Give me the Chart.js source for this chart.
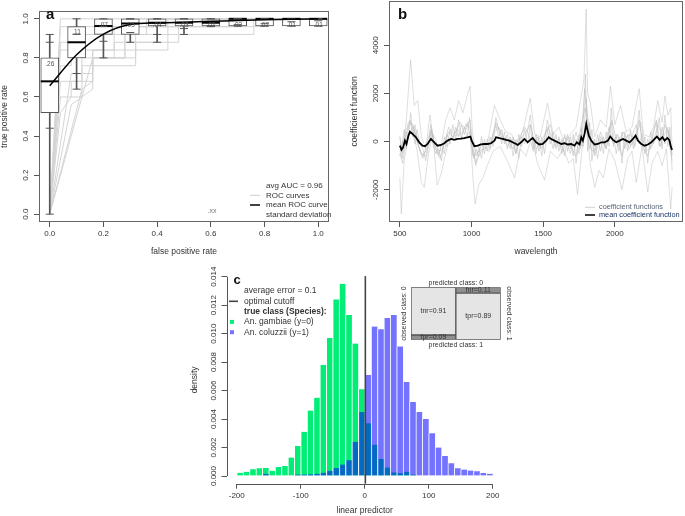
<!DOCTYPE html>
<html>
<head>
<meta charset="utf-8">
<script src="https://cdn.jsdelivr.net/npm/chart.js@4.4.1/dist/chart.umd.min.js"></script>
<style>
  html, body { margin: 0; padding: 0; background: #fff; }
  #page { position: relative; width: 685px; height: 516px; overflow: hidden; }
  canvas { position: absolute; }
</style>
</head>
<body>
<div id="page">
  <canvas id="rocChart" width="340" height="262" style="left:0;top:0"></canvas>
  <canvas id="coefChart" width="345" height="262" style="left:340px;top:0"></canvas>
  <canvas id="histChart" width="325" height="254" style="left:190px;top:262px"></canvas>
  <canvas id="mosaicChart" width="117" height="74" style="left:398px;top:277px"></canvas>
</div>
<script>
// ---- panel a: ROC curves with boxplots per false positive rate ----
const fprGrid = [0, 0.1, 0.2, 0.3, 0.4, 0.5, 0.6, 0.7, 0.8, 0.9, 1.0];
const boxQ1 = [0.52, 0.80, 0.92, 0.92, 0.963, 0.963, 0.963, 0.963, 0.963, 0.963, 0.963];
const boxQ3 = [0.80, 0.96, 1, 1, 1, 1, 1, 1, 1, 1, 1];
const boxMedian = [0.68, 0.88, 0.963, 0.976, 0.98, 0.98, 0.98, 1, 1, 1, 1];
const whiskerLow = [0, 0.64, 0.80, 0.88, 0.88, 0.92, 0.96, 0.963, 0.963, 0.963, 0.963];
const whiskerHigh = [0.92, 1, 1, 1, 1, 1, 1, 1, 1, 1, 1];
const sdLow = [0.44, 0.72, 0.885, 0.93, 0.92, 0.95, 0.965, 0.97, 0.975, 0.985, 0.99];
const sdHigh = [0.88, 0.92, 0.96, 1, 1, 1, 1, 1, 1, 1, 1];
const meanTpr = [0.657, 0.816, 0.922, 0.971, 0.979, 0.983, 0.987, 0.991, 0.995, 0.998, 1.0];
const sdLabels = ['.26', '.11', '.07', '.05', '.04', '.03', '.02', '.02', '.02', '.01', '.01'];
const rocTicks = [0, 0.2, 0.4, 0.6, 0.8, 1.0];

// individual cross-validation ROC curves, [fpr, tpr]
const rocCurves = [
  [[0, 0], [0.04, 0.96], [0.8, 0.96], [0.8, 1], [1, 1]],
  [[0, 0], [0.04, 0.88], [0.12, 0.88], [0.12, 0.92], [0.76, 0.92], [0.76, 1], [1, 1]],
  [[0, 0], [0.04, 0.84], [0.08, 0.84], [0.08, 0.92], [0.2, 0.92], [0.2, 0.96], [0.52, 0.96], [0.52, 1], [1, 1]],
  [[0, 0], [0.04, 0.76], [0.08, 0.76], [0.08, 0.84], [0.2, 0.84], [0.2, 0.96], [0.44, 0.96], [0.44, 1], [1, 1]],
  [[0, 0], [0.04, 0.68], [0.12, 0.68], [0.12, 0.8], [0.32, 0.8], [0.32, 0.96], [0.6, 0.96], [0.6, 1], [1, 1]],
  [[0, 0], [0.04, 0.6], [0.12, 0.6], [0.12, 0.76], [0.32, 0.76], [0.32, 0.88], [0.48, 0.88], [0.48, 0.96], [0.72, 0.96], [0.72, 1], [1, 1]],
  [[0, 0], [0.08, 0.56], [0.16, 0.64], [0.16, 0.8], [0.24, 0.8], [0.24, 0.88], [0.4, 0.88], [0.4, 1], [1, 1]],
  [[0, 0], [0.08, 0.72], [0.16, 0.72], [0.16, 0.84], [0.44, 0.84], [0.44, 0.96], [0.68, 0.96], [0.68, 1], [1, 1]],
  [[0, 0], [0.12, 0.64], [0.16, 0.68], [0.16, 0.8], [0.28, 0.8], [0.28, 0.92], [0.36, 0.92], [0.36, 1], [1, 1]],
  [[0, 0], [0.16, 0.8], [0.28, 0.8], [0.28, 0.96], [0.4, 0.96], [0.4, 1], [1, 1]],
  [[0, 0], [0.04, 0.52], [0.08, 0.6], [0.08, 0.68], [0.16, 0.68], [0.16, 0.84], [0.24, 0.84], [0.24, 0.96], [0.32, 0.96], [0.32, 1], [1, 1]],
  [[0, 0], [0.04, 1], [1, 1]]
];

// ---- panel b: coefficient functions over wavelength, [wavelength, value] ----
const meanCoefCurve = [
  [500, -170], [511, -340], [523, -230], [535, 40], [546, -100], [558, 210], [570, 410], [588, 320], [612, 180],
  [635, -30], [658, -170], [675, -190], [693, -100], [717, 110], [740, -30], [763, -170], [787, -140], [810, -70],
  [833, 40], [857, 110], [880, 70], [903, 110], [927, 120], [950, 140], [973, 180], [992, 210], [1001, 40],
  [1020, -190], [1043, -170], [1066, -120], [1090, -100], [1113, -100], [1136, -70], [1160, 40], [1171, 180],
  [1194, 140], [1218, 110], [1241, 70], [1264, 40], [1287, -30], [1311, -100], [1323, -140], [1346, -30],
  [1369, 110], [1392, -30], [1404, 40], [1427, 150], [1451, -30], [1474, -120], [1497, -100], [1521, 40],
  [1539, 180], [1556, 110], [1579, 40], [1602, -30], [1626, -100], [1649, -70], [1672, -120], [1696, -100],
  [1719, -170], [1735, -30], [1754, -120], [1766, 180], [1777, 40], [1789, 320], [1801, 730], [1808, 520],
  [1819, 250], [1836, 40], [1859, -120], [1882, -100], [1906, -30], [1929, -30], [1952, 40], [1968, 210],
  [1987, 70], [2010, -30], [2034, 40], [2057, 110], [2080, 40], [2103, -30], [2127, 110], [2145, 250],
  [2162, 40], [2185, -100], [2208, -170], [2231, -120], [2255, -30], [2278, 110], [2294, 210], [2313, 70],
  [2332, 180], [2348, 40], [2366, 150], [2380, 70], [2392, -230], [2400, -340]
];
const coefCurveA = [
  [500, 200], [520, -500], [545, 900], [575, 3400], [600, 1500], [625, 1700], [650, 200], [680, -300], [710, 1100],
  [740, -200], [780, -400], [820, 900], [850, 1400], [880, 900], [910, 1700], [940, 1200], [970, 1900], [990, 2300],
  [1005, 500], [1030, -600], [1070, -200], [1110, -100], [1160, 1500], [1200, 900], [1240, 400], [1280, 300],
  [1320, -200], [1360, 500], [1410, 1800], [1440, 300], [1480, 200], [1530, 1600], [1570, 300], [1610, 600],
  [1650, -100], [1690, 300], [1730, 600], [1760, 1700], [1785, 2600], [1800, 5500], [1810, 2000], [1830, 1600],
  [1860, 200], [1900, 900], [1940, 600], [1970, 2300], [2000, 700], [2040, 1500], [2080, 400], [2120, 600],
  [2170, 2200], [2200, 300], [2240, 200], [2270, 600], [2300, 1700], [2330, 800], [2350, 1900], [2370, 1100],
  [2390, 1400], [2400, -300]
];
const coefCurveB = [
  [500, -1500], [510, -3000], [530, -800], [560, 300], [590, 600], [620, -400], [650, -1700], [670, -1900],
  [700, -500], [730, 300], [760, -1800], [790, -1300], [830, -200], [870, 200], [910, 300], [950, 100], [990, 400],
  [1010, -1500], [1025, -2600], [1050, -1800], [1080, -1500], [1110, -1000], [1150, -400], [1200, -200],
  [1250, -800], [1300, -1500], [1340, -300], [1380, -600], [1420, 200], [1460, -900], [1510, -1600], [1550, -400],
  [1600, -700], [1640, -300], [1680, -900], [1710, -700], [1740, -2200], [1770, -400], [1800, 800], [1830, -1000],
  [1860, -1900], [1890, -1200], [1920, -1500], [1960, -300], [2000, -800], [2050, -2000], [2090, -700],
  [2120, -400], [2150, -1700], [2190, -200], [2230, -2100], [2260, -900], [2300, -400], [2330, -1000],
  [2360, -300], [2390, -2800], [2400, -1900]
];
const coefCurveC = [
  [500, -400], [530, 200], [560, 800], [590, 700], [620, 0], [650, -500], [680, -600], [720, 400], [760, -500],
  [800, -300], [840, 600], [880, 300], [920, 800], [960, 500], [990, 900], [1010, -600], [1050, -400], [1090, -300],
  [1130, -100], [1170, 800], [1210, 200], [1250, 100], [1290, -300], [1330, 100], [1370, 300], [1410, 700],
  [1450, -300], [1490, 0], [1530, 600], [1570, 100], [1610, -200], [1650, 200], [1690, -500], [1730, 400],
  [1760, -300], [1790, 2200], [1820, 500], [1860, -600], [1900, 200], [1940, -300], [1980, 900], [2020, -200],
  [2060, 400], [2100, -300], [2140, 100], [2180, 800], [2220, -400], [2260, -200], [2300, 700], [2340, 200],
  [2370, 600], [2400, -600]
];
const coefCurveD = [
  [500, -500], [520, -900], [545, 300], [570, 900], [600, 500], [630, -200], [660, -600], [690, -300], [720, 500],
  [750, -300], [780, -700], [810, -100], [840, 400], [870, 200], [900, 500], [930, 300], [960, 700], [990, 600],
  [1005, -300], [1030, -900], [1060, -500], [1090, -200], [1120, -400], [1160, 400], [1190, 600], [1220, 200],
  [1250, -200], [1280, 100], [1310, -500], [1340, 200], [1370, 600], [1400, 300], [1430, -400], [1460, 200],
  [1490, -300], [1520, 400], [1550, 700], [1580, -200], [1610, 100], [1640, -400], [1670, 300], [1700, -300],
  [1730, -600], [1760, 500], [1785, 1200], [1800, 1800], [1815, 400], [1840, -400], [1870, -300], [1900, 400],
  [1930, -200], [1960, 600], [1990, -100], [2020, 300], [2050, -600], [2080, 200], [2110, 300], [2140, -200],
  [2170, 900], [2200, -300], [2230, -600], [2260, 200], [2290, 900], [2320, -200], [2350, 700], [2380, 300],
  [2400, -500]
];
const coefCurveE = [
  [500, -600], [515, -200], [530, 500], [545, -300], [560, 600], [575, 800], [590, 200], [605, 700], [620, 100],
  [640, -400], [660, -700], [680, -300], [700, 200], [715, 500], [730, -100], [750, -500], [770, -300], [790, -800],
  [810, 200], [830, -200], [850, 500], [870, 100], [890, 600], [910, 200], [930, 700], [950, 300], [970, 800],
  [985, 400], [1000, -200], [1015, -700], [1030, -300], [1050, -600], [1070, 200], [1090, -500], [1110, 100],
  [1130, -300], [1150, 300], [1170, 700], [1190, 200], [1210, 500], [1230, -100], [1250, 300], [1270, -300],
  [1290, 200], [1310, -500], [1330, 300], [1350, -200], [1370, 500], [1390, -100], [1410, 700], [1430, -300],
  [1450, 300], [1470, -400], [1490, 200], [1510, -500], [1530, 500], [1550, -100], [1570, 400], [1590, -300],
  [1610, 200], [1630, -500], [1650, 300], [1670, -400], [1690, 200], [1710, -600], [1730, 100], [1750, -500],
  [1765, 600], [1780, -200], [1795, 1400], [1810, 300], [1825, -300], [1840, 500], [1860, -500], [1880, 300],
  [1900, -400], [1920, 200], [1940, -300], [1960, 500], [1975, 800], [1990, -200], [2010, 300], [2030, -400],
  [2050, 400], [2070, -300], [2090, 300], [2110, -200], [2130, 400], [2150, 700], [2170, -100], [2190, 300],
  [2210, -500], [2230, 100], [2250, -300], [2270, 400], [2290, 800], [2310, -200], [2330, 600], [2350, -100],
  [2370, 500], [2385, -200], [2400, -800]
];
const coefCurveF = [
  [500, 200], [515, -700], [530, -100], [545, 400], [560, 100], [575, 1200], [590, 400], [605, -100], [620, 500],
  [640, -100], [660, -300], [680, -800], [700, -200], [715, 700], [730, 300], [750, 100], [770, -600], [790, -100],
  [810, -500], [830, 300], [850, -100], [870, 700], [890, 100], [910, 900], [930, 100], [950, 600], [970, 200],
  [985, 1000], [1000, 300], [1015, -400], [1030, -1000], [1050, -200], [1070, -700], [1090, 100], [1110, -400],
  [1130, 200], [1150, -200], [1170, 1000], [1190, 500], [1210, -100], [1230, 400], [1250, -300], [1270, 200],
  [1290, -600], [1310, 100], [1330, -700], [1350, 200], [1370, -100], [1390, 400], [1410, 1100], [1430, 100],
  [1450, -500], [1470, 200], [1490, -600], [1510, 100], [1530, 900], [1550, 200], [1570, -300], [1590, 300],
  [1610, -400], [1630, 100], [1650, -600], [1670, 200], [1690, -300], [1710, 300], [1730, -900], [1750, 300],
  [1765, -200], [1780, 800], [1795, 2800], [1810, -400], [1825, 800], [1840, -800], [1860, 100], [1880, -700],
  [1900, 100], [1920, -500], [1940, 400], [1960, -200], [1975, 1400], [1990, 300], [2010, -500], [2030, 200],
  [2050, -900], [2070, 400], [2090, -400], [2110, 500], [2130, -300], [2150, 300], [2170, 1300], [2190, -200],
  [2210, 200], [2230, -900], [2250, 400], [2270, -100], [2290, 300], [2310, 1000], [2330, -300], [2350, 1100],
  [2370, -200], [2385, 600], [2400, -1200]
];
const coefTicksX = [500, 1000, 1500, 2000];
const coefTicksY = [-2000, 0, 2000, 4000];

// ---- panel c: histogram of the linear predictor by true class ----
const binCenters = [-195, -185, -175, -165, -155, -145, -135, -125, -115, -105, -95, -85, -75, -65, -55, -45, -35, -25, -15, -5,
  5, 15, 25, 35, 45, 55, 65, 75, 85, 95, 105, 115, 125, 135, 145, 155, 165, 175, 185, 195];
const gambiaeDensity = [0.00023, 0.0003, 0.00047, 0.00054, 0.00056, 0.00037, 0.00063, 0.0007, 0.0013, 0.0021,
  0.0031, 0.0046, 0.0055, 0.0078, 0.0097, 0.0124, 0.0135, 0.0113, 0.0093, 0.0061,
  0.0037, 0.0022, 0.0012, 0.0006, 0.00025, 0.0002, 0.0003, 0.0001, 0, 0,
  0, 0, 0, 0, 0, 0, 0, 0, 0, 0];
const coluzziiDensity = [0, 0, 0, 0, 0.00016, 0, 0, 0, 0, 0.0001,
  0.0001, 0.00012, 0.00016, 0.00023, 0.00037, 0.00056, 0.0008, 0.0011, 0.0024, 0.0045,
  0.0071, 0.0105, 0.0103, 0.0111, 0.0113, 0.0091, 0.0066, 0.0052, 0.0045, 0.004,
  0.003, 0.002, 0.0014, 0.0009, 0.00055, 0.00045, 0.00038, 0.00033, 0.00022, 0.00016];
const cutoffValue = 1;
const histTicksX = [-200, -100, 0, 100, 200];
const histTicksY = [0, 0.002, 0.004, 0.006, 0.008, 0.010, 0.012, 0.014];

// ---- inset: confusion mosaic (columns = observed class) ----
const observedClasses = ['0', '1'];
const predictedOne = [0.09, 0.89];
const predictedZero = [0.91, 0.11];
const predictedOneLabels = ['fpr=0.09', 'tpr=0.89'];
const predictedZeroLabels = ['tnr=0.91', 'fnr=0.11'];

const FONT = '"Liberation Sans", Arial, sans-serif';
Chart.defaults.font.family = FONT;
Chart.defaults.font.size = 8;
Chart.defaults.color = '#333';
Chart.defaults.animation = false;
Chart.defaults.responsive = false;
Chart.defaults.devicePixelRatio = 1;
Chart.defaults.events = [];
Chart.defaults.plugins.legend.display = false;
Chart.defaults.plugins.tooltip.enabled = false;

function font(size, bold) {
  return (bold ? 'bold ' : '') + size + 'px ' + FONT;
}

function text(ctx, str, x, y, o = {}) {
  ctx.save();
  ctx.font = font(o.size || 8, o.bold);
  ctx.fillStyle = o.color || '#333';
  ctx.textAlign = o.align || 'left';
  ctx.textBaseline = 'middle';
  ctx.translate(x, y);
  if (o.rotate) ctx.rotate(o.rotate);
  ctx.fillText(str, 0, 0);
  ctx.restore();
}

function segment(ctx, x1, y1, x2, y2, color, width) {
  ctx.save();
  ctx.strokeStyle = color;
  ctx.lineWidth = width;
  ctx.beginPath();
  ctx.moveTo(x1, y1);
  ctx.lineTo(x2, y2);
  ctx.stroke();
  ctx.restore();
}

function drawFrame(chart) {
  const { ctx, chartArea: a } = chart;
  ctx.save();
  ctx.strokeStyle = '#666';
  ctx.lineWidth = 1;
  ctx.strokeRect(Math.round(a.left) + 0.5, Math.round(a.top) + 0.5,
    Math.round(a.right - a.left) - 1, Math.round(a.bottom - a.top) - 1);
  ctx.restore();
}

// R draws y tick labels parallel to the axis
function drawYLabels(chart, fmt) {
  const y = chart.scales.y;
  y.ticks.forEach(t => text(chart.ctx, fmt(t.value), chart.chartArea.left - 13, y.getPixelForValue(t.value),
    { align: 'center', rotate: -Math.PI / 2 }));
}

function rAxis(min, max, ticks, fmt, title, size, titlePad, showLabels) {
  return {
    type: 'linear',
    min: min,
    max: max,
    offset: false,
    afterBuildTicks: s => { s.ticks = ticks.map(v => ({ value: v })); },
    afterFit: s => { if (s.isHorizontal()) s.height = size; else s.width = size; },
    grid: { offset: false, drawOnChartArea: false, tickLength: 5, color: '#555' },
    border: { display: false },
    ticks: { display: showLabels, padding: 2, maxRotation: 0, autoSkip: false, callback: v => fmt(v) },
    title: { display: true, text: title, font: { size: 8.5 }, padding: titlePad }
  };
}

const pairs = list => list.map(p => ({ x: p[0], y: p[1] }));

// ---------- panel a ----------
const rocDatasets = rocCurves.map(c => ({
  type: 'line', data: pairs(c), borderColor: '#d4d4d4', borderWidth: 1, pointRadius: 0, order: 6
}));

rocDatasets.push({
  type: 'bar', data: fprGrid.map((x, i) => ({ x: x, y: [whiskerLow[i], whiskerHigh[i]] })),
  backgroundColor: '#555', barThickness: 1, grouped: false, order: 5
});
rocDatasets.push({
  type: 'bar', data: fprGrid.map((x, i) => ({ x: x, y: [boxQ1[i], boxQ3[i]] })),
  backgroundColor: '#ffffff', borderColor: '#555', borderWidth: 1, borderSkipped: false,
  barThickness: 18, grouped: false, order: 4
});
rocDatasets.push({
  type: 'scatter', data: fprGrid.map((x, i) => ({ x: x, y: boxMedian[i] })),
  pointStyle: 'line', pointRadius: 9, borderWidth: 2, pointBorderWidth: 2,
  borderColor: '#000', pointBorderColor: '#000', order: 3
});
rocDatasets.push({
  type: 'scatter',
  data: fprGrid.map((x, i) => ({ x: x, y: whiskerLow[i] }))
    .concat(fprGrid.map((x, i) => ({ x: x, y: whiskerHigh[i] })))
    .concat(fprGrid.map((x, i) => ({ x: x, y: sdLow[i] })))
    .concat(fprGrid.map((x, i) => ({ x: x, y: sdHigh[i] }))),
  pointStyle: 'line', pointRadius: 4, borderWidth: 1, pointBorderWidth: 1,
  borderColor: '#555', pointBorderColor: '#555', order: 2
});
rocDatasets.push({
  type: 'line', data: fprGrid.map((x, i) => ({ x: x, y: meanTpr[i] })),
  borderColor: '#000', borderWidth: 1.5, pointRadius: 0, cubicInterpolationMode: 'monotone', order: 1
});

const rocDecor = {
  id: 'rocDecor',
  afterDraw(chart) {
    const { ctx, scales: { x, y } } = chart;
    drawFrame(chart);
    drawYLabels(chart, v => v.toFixed(1));
    sdLabels.forEach((s, i) => text(ctx, s, x.getPixelForValue(fprGrid[i]), y.getPixelForValue(boxQ3[i]) + 6,
      { size: 6.5, align: 'center', color: '#555' }));
    text(ctx, 'a', 46, 15, { size: 15, bold: true, color: '#111' });
    text(ctx, '.xx', 212, 211, { size: 7, align: 'center', color: '#777' });
    text(ctx, 'avg AUC = 0.96', 266, 185.7);
    segment(ctx, 250, 195.3, 260, 195.3, '#cfcfcf', 1);
    text(ctx, 'ROC curves', 266, 195.3);
    segment(ctx, 250, 205, 260, 205, '#000', 1.5);
    text(ctx, 'mean ROC curve', 266, 205);
    text(ctx, 'standard deviation', 266, 214.4);
  }
};

new Chart(document.getElementById('rocChart'), {
  type: 'bar',
  data: { datasets: rocDatasets },
  options: {
    layout: { padding: { top: 1, right: 5, left: 0, bottom: 0 } },
    scales: {
      x: rAxis(-0.04, 1.04, rocTicks, v => v.toFixed(1), 'false positive rate', 40, { top: 0, bottom: 5 }, true),
      y: rAxis(-0.04, 1.04, rocTicks, v => v.toFixed(1), 'true positive rate', 39, { top: 0, bottom: 0 }, false)
    }
  },
  plugins: [rocDecor]
});

// ---------- panel b ----------
const coefDecor = {
  id: 'coefDecor',
  afterDraw(chart) {
    const ctx = chart.ctx;
    drawFrame(chart);
    drawYLabels(chart, v => String(v));
    text(ctx, 'b', 58, 15, { size: 15, bold: true, color: '#111' });
    segment(ctx, 245, 207.3, 255, 207.3, '#cfcfcf', 1);
    text(ctx, 'coefficient functions', 259, 207.3, { size: 7.3, color: '#5a6678' });
    segment(ctx, 245, 215, 255, 215, '#000', 1.5);
    text(ctx, 'mean coefficient function', 259, 215, { size: 7.3, color: '#1c3566' });
  }
};

const grayLine = (c, alpha) => ({
  data: pairs(c), borderColor: 'rgba(185,185,185,' + alpha + ')', borderWidth: 1, pointRadius: 0, order: 2
});

new Chart(document.getElementById('coefChart'), {
  type: 'line',
  data: {
    datasets: [
      grayLine(coefCurveA, 0.45), grayLine(coefCurveB, 0.45), grayLine(coefCurveC, 0.5),
      grayLine(coefCurveD, 0.55), grayLine(coefCurveE, 0.55), grayLine(coefCurveF, 0.5),
      { data: pairs(meanCoefCurve), borderColor: '#000', borderWidth: 1.8, pointRadius: 0, order: 1 }
    ]
  },
  options: {
    layout: { padding: { top: 1, right: 2, left: 0, bottom: 0 } },
    scales: {
      x: rAxis(424, 2476, coefTicksX, v => String(v), 'wavelength', 40, { top: 0, bottom: 5 }, true),
      y: rAxis(-3340, 5840, coefTicksY, v => String(v), 'coefficient function', 49, { top: 10, bottom: 0 }, false)
    }
  },
  plugins: [coefDecor]
});

// ---------- panel c ----------
const histDecor = {
  id: 'histDecor',
  afterDatasetsDraw(chart) {
    const { ctx, chartArea: a, scales: { x } } = chart;
    const cx = x.getPixelForValue(cutoffValue);
    segment(ctx, cx, a.top, cx, a.bottom, '#444', 1.6);
  },
  afterDraw(chart) {
    const { ctx, chartArea: a, scales: { x, y } } = chart;
    const by = Math.round(a.bottom) + 0.5;
    const lx = Math.round(a.left) + 0.5;
    segment(ctx, x.getPixelForValue(histTicksX[0]), by, x.getPixelForValue(histTicksX[histTicksX.length - 1]), by, '#555', 1);
    segment(ctx, lx, y.getPixelForValue(histTicksY[0]), lx, y.getPixelForValue(histTicksY[histTicksY.length - 1]), '#555', 1);
    drawYLabels(chart, v => v.toFixed(3));
    text(ctx, 'c', 43.5, 18.7, { size: 13, bold: true, color: '#111' });
    text(ctx, 'average error = 0.1', 54, 29, { size: 8.5 });
    segment(ctx, 39, 39.3, 48, 39.3, '#444', 1.6);
    text(ctx, 'optimal cutoff', 54, 39.3, { size: 8.5 });
    text(ctx, 'true class (Species):', 54, 49.6, { size: 8.5, bold: true });
    ctx.fillStyle = '#00EE76';
    ctx.fillRect(40, 57.9, 4, 4);
    text(ctx, 'An. gambiae (y=0)', 54, 59.9, { size: 8.5 });
    ctx.fillStyle = 'rgba(0,0,255,0.55)';
    ctx.fillRect(40, 68.2, 4, 4);
    text(ctx, 'An. coluzzii (y=1)', 54, 70.2, { size: 8.5 });
  }
};

new Chart(document.getElementById('histChart'), {
  type: 'bar',
  data: {
    datasets: [
      {
        label: 'An. gambiae (y=0)',
        data: binCenters.map((b, i) => ({ x: b, y: gambiaeDensity[i] })),
        backgroundColor: '#00EE76', borderColor: '#ffffff',
        borderWidth: { left: 1, right: 0, top: 0, bottom: 0 },
        barPercentage: 1, categoryPercentage: 1, grouped: false, order: 2
      },
      {
        label: 'An. coluzzii (y=1)',
        data: binCenters.map((b, i) => ({ x: b, y: coluzziiDensity[i] })),
        backgroundColor: 'rgba(0,0,255,0.55)', borderColor: 'rgba(255,255,255,0.6)',
        borderWidth: { left: 1, right: 0, top: 0, bottom: 0 },
        barPercentage: 1, categoryPercentage: 1, grouped: false, order: 1
      }
    ]
  },
  options: {
    layout: { padding: { top: 14.1, right: 12.1, left: 0, bottom: 0 } },
    scales: {
      x: rAxis(-216, 216, histTicksX, v => String(v), 'linear predictor', 32.3, { top: 0, bottom: 0 }, true),
      y: rAxis(-0.00054, 0.01404, histTicksY, v => v.toFixed(3), 'density', 36.5, { top: 0, bottom: 0 }, false)
    }
  },
  plugins: [histDecor]
});

// ---------- inset mosaic ----------
const mosaicDecor = {
  id: 'mosaicDecor',
  afterDatasetsDraw(chart) {
    const { ctx, chartArea: a } = chart;
    [predictedOneLabels, predictedZeroLabels].forEach((labels, d) => {
      chart.getDatasetMeta(d).data.forEach((bar, i) => {
        text(ctx, labels[i], bar.x, (bar.y + bar.base) / 2, { size: 7, align: 'center' });
      });
    });
    const cx = (a.left + a.right) / 2;
    const cy = (a.top + a.bottom) / 2;
    text(ctx, 'predicted class: 0', cx, a.top - 4, { size: 7, align: 'center' });
    text(ctx, 'predicted class: 1', cx, a.bottom + 5.5, { size: 7, align: 'center' });
    text(ctx, 'observed class: 0', a.left - 7, cy, { size: 7, align: 'center', rotate: -Math.PI / 2 });
    text(ctx, 'observed class: 1', a.right + 8, cy, { size: 7, align: 'center', rotate: Math.PI / 2 });
  }
};

new Chart(document.getElementById('mosaicChart'), {
  type: 'bar',
  data: {
    labels: observedClasses,
    datasets: [
      { data: predictedOne, backgroundColor: ['#8f8f8f', '#e5e5e5'], borderColor: '#555', borderWidth: 1, borderSkipped: false },
      { data: predictedZero, backgroundColor: ['#e5e5e5', '#8f8f8f'], borderColor: '#555', borderWidth: 1, borderSkipped: false }
    ]
  },
  options: {
    layout: { padding: { left: 13, top: 10.3, right: 14.3, bottom: 11.3 } },
    datasets: { bar: { barPercentage: 1, categoryPercentage: 1 } },
    scales: {
      x: { stacked: true, display: false },
      y: { stacked: true, display: false, min: 0, max: 1 }
    }
  },
  plugins: [mosaicDecor]
});
</script>
</body>
</html>
